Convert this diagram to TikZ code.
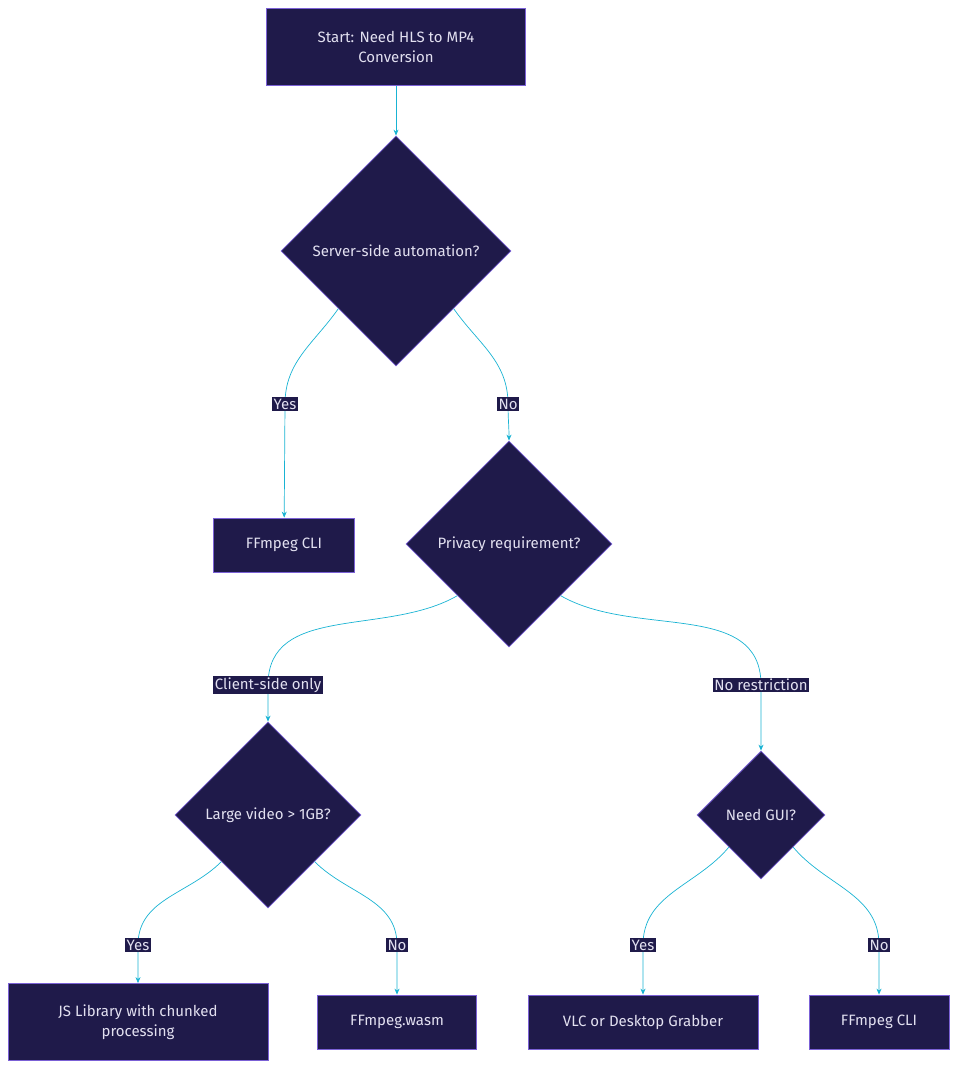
\documentclass[tikz,border=0pt]{standalone}
\usepackage{fontspec}
\setmainfont{Fira Sans}
\usetikzlibrary{shapes.geometric}
\usetikzlibrary{arrows.meta}
\definecolor{boxfill}{HTML}{1F1A4A}
\definecolor{boxline}{HTML}{7B61D6}
\definecolor{linkcol}{HTML}{19B3D3}
\definecolor{txtcol}{HTML}{E2E0F0}

\begin{document}
\begin{tikzpicture}[x = 1pt, y = 1pt, font=\fontsize{15}{20}\selectfont, text = txtcol]
	\tikzstyle{boxStyle} = [shape = rectangle, draw = boxline, fill = boxfill, line width = 0.8pt, align = center]
	\tikzstyle{decisionStyle} = [shape = diamond, aspect = 1, draw = boxline, fill = boxfill, line width = 0.8pt, inner sep = 0pt]
	\tikzstyle{labelStyle} = [fill = boxfill, inner sep = 1.5pt]
	\tikzstyle{linkStyle} = [draw = linkcol, line width = 0.7pt, -{Stealth[length = 6pt, width = 5pt]}]
	\useasboundingbox (0,0) rectangle (958,-1070);
	\node[boxStyle, minimum width = 259, minimum height = 77] (start) at (396,-47) {Start: Need HLS to MP4\\Conversion};
	\node[decisionStyle, minimum size = 230] (server) at (396,-251) {Server-side automation?};
	\node[boxStyle, minimum width = 141, minimum height = 54] (cliA) at (284,-545) {FFmpeg CLI};
	\node[decisionStyle, minimum size = 206] (privacy) at (509,-544) {Privacy requirement?};
	\node[decisionStyle, minimum size = 186] (large) at (268,-815) {Large video > 1GB?};
	\node[decisionStyle, minimum size = 128] (gui) at (761,-815) {Need GUI?};
	\node[boxStyle, minimum width = 260, minimum height = 77] (jslib) at (138,-1022) {JS Library with chunked\\processing};
	\node[boxStyle, minimum width = 159, minimum height = 54] (wasm) at (397,-1022) {FFmpeg.wasm};
	\node[boxStyle, minimum width = 230, minimum height = 54] (vlc) at (643,-1022) {VLC or Desktop Grabber};
	\node[boxStyle, minimum width = 140, minimum height = 54] (cliB) at (879,-1022) {FFmpeg CLI};
	% label points on the links
	\coordinate (pYesA) at (285,-404);
	\coordinate (pNoA) at (508,-404);
	\coordinate (pClient) at (268,-685);
	\coordinate (pNoRes) at (761,-685);
	\coordinate (pYesB) at (138,-945);
	\coordinate (pNoB) at (397,-945);
	\coordinate (pYesC) at (643,-945);
	\coordinate (pNoC) at (879,-945);
	\draw[linkStyle] (start) -- (server);
	\draw[linkStyle] (server.south west) to[out = 235, in = 90] (pYesA) -- (cliA);
	\draw[linkStyle] (server.south east) to[out = -55, in = 90] (pNoA) to[out = -90, in = 90] (privacy.north);
	\draw[linkStyle] (privacy.south west) to[out = 210, in = 90] (pClient) -- (large.north);
	\draw[linkStyle] (privacy.south east) to[out = -30, in = 90] (pNoRes) -- (gui.north);
	\draw[linkStyle] (large.south west) to[out = 225, in = 90] (pYesB) -- (jslib);
	\draw[linkStyle] (large.south east) to[out = -45, in = 90] (pNoB) -- (wasm);
	\draw[linkStyle] (gui.south west) to[out = 230, in = 90] (pYesC) -- (vlc);
	\draw[linkStyle] (gui.south east) to[out = -50, in = 90] (pNoC) -- (cliB);
	\node[labelStyle] (lYesA) at (pYesA) {Yes};
	\node[labelStyle] (lNoA) at (pNoA) {No};
	\node[labelStyle] (lClient) at (pClient) {Client-side only};
	\node[labelStyle] (lNoRes) at (pNoRes) {No restriction};
	\node[labelStyle] (lYesB) at (pYesB) {Yes};
	\node[labelStyle] (lNoB) at (pNoB) {No};
	\node[labelStyle] (lYesC) at (pYesC) {Yes};
	\node[labelStyle] (lNoC) at (pNoC) {No};
\end{tikzpicture}
\end{document}
